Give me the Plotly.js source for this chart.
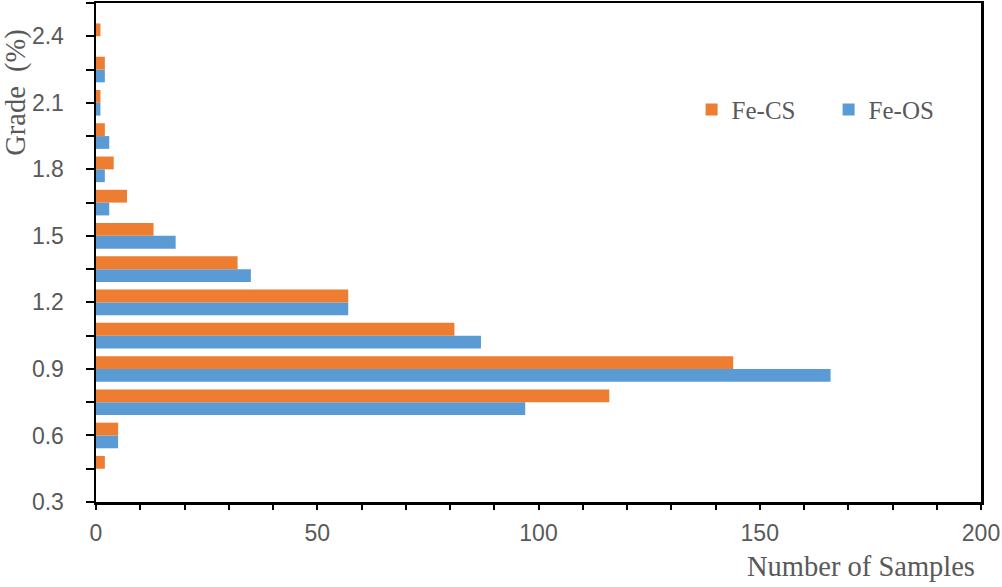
<!DOCTYPE html>
<html>
<head>
<meta charset="utf-8">
<script src="https://cdn.plot.ly/plotly-3.0.1.min.js"></script>
<style>html,body{margin:0;padding:0;background:#fff;}#chart{width:1002px;height:587px;}</style>
</head>
<body>
<div id="chart"></div>
<script>
// Grade categories (%)
const grades = [0.45, 0.6, 0.75, 0.9, 1.05, 1.2, 1.35, 1.5, 1.65, 1.8, 1.95, 2.1, 2.25, 2.4];
// Number of samples per grade
const feCS = [2, 5, 116, 144, 81, 57, 32, 13, 7, 4, 2, 1, 2, 1];
const feOS = [0, 5, 97, 166, 87, 57, 35, 18, 3, 2, 3, 1, 2, 0];
const seriesNames = ['Fe-CS', 'Fe-OS'];
const xTitle = 'Number of Samples';
const yTitle = 'Grade\u00a0\u00a0(%)';

const gray = '#595959';
const serif = 'Liberation Serif, Times New Roman, serif';
const sans = 'Liberation Sans, Arial, sans-serif';

const traces = [
  {type: 'bar', orientation: 'h', name: seriesNames[1], y: grades, x: feOS,
   marker: {color: '#5B9BD5', line: {width: 0}}},
  {type: 'bar', orientation: 'h', name: seriesNames[0], y: grades, x: feCS,
   marker: {color: '#ED7D31', line: {width: 0}}}
];

const layout = {
  width: 1002, height: 587,
  margin: {l: 96, r: 21, t: 3, b: 85},
  paper_bgcolor: '#fff', plot_bgcolor: '#fff',
  barmode: 'group', bargap: 0.23, bargroupgap: 0,
  showlegend: true,
  legend: {
    orientation: 'h', traceorder: 'reversed',
    x: 0.673, xanchor: 'left', y: 0.786, yanchor: 'middle',
    font: {family: serif, size: 25, color: gray},
    entrywidth: 92, bgcolor: 'rgba(0,0,0,0)'
  },
  xaxis: {
    range: [0, 200], tick0: 0, dtick: 10, ticklabelstep: 5,
    showgrid: false, zeroline: false,
    showline: true, linecolor: '#000', linewidth: 2.5, mirror: true,
    ticks: 'outside', ticklen: 5, tickwidth: 2, tickcolor: '#000',
    ticklabelstandoff: 4,
    tickfont: {family: sans, size: 23, color: gray}
  },
  yaxis: {
    range: [0.3, 2.55], tick0: 0.3, dtick: 0.15, ticklabelstep: 2,
    tickformat: '.1f',
    showgrid: false, zeroline: false,
    showline: true, linecolor: '#000', linewidth: 2.5, mirror: true,
    ticks: 'outside', ticklen: 8, tickwidth: 2, tickcolor: '#000',
    ticklabelstandoff: 17,
    tickfont: {family: sans, size: 23, color: gray}
  },
  annotations: [
    {text: xTitle, xref: 'paper', yref: 'paper', x: 0.995, y: -0.13,
     xanchor: 'right', yanchor: 'middle', showarrow: false,
     font: {family: serif, size: 28.5, color: gray}},
    {text: yTitle, xref: 'paper', yref: 'paper', x: -0.0904, y: 0.822,
     xanchor: 'center', yanchor: 'middle', showarrow: false, textangle: -90,
     font: {family: serif, size: 28.5, color: gray}}
  ]
};

Plotly.newPlot('chart', traces, layout, {displayModeBar: false, staticPlot: true});
</script>
</body>
</html>
